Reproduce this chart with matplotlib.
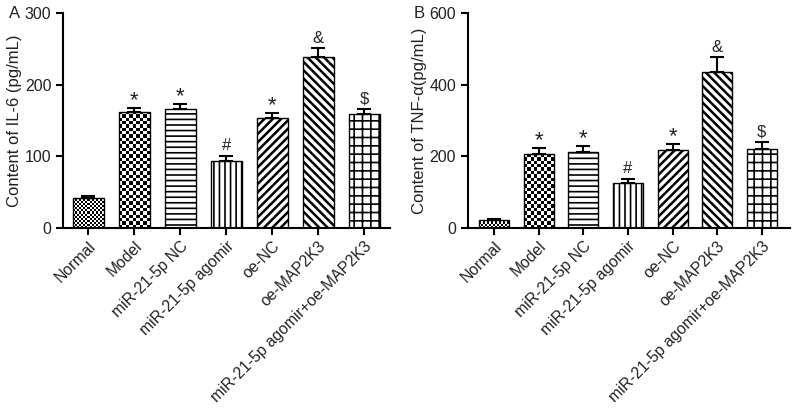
import matplotlib
matplotlib.use('Agg')
import matplotlib.pyplot as plt
import numpy as np

plt.rcParams['font.family'] = ['Liberation Sans', 'DejaVu Sans']

groups = ['Normal', 'Model', 'miR-21-5p NC', 'miR-21-5p agomir', 'oe-NC',
          'oe-MAP2K3', 'miR-21-5p agomir+oe-MAP2K3']
il6 = [42, 162, 166, 93, 154, 239, 159]
il6_err = [3, 6, 7, 8, 7, 12, 7]
tnf = [23, 206, 213, 127, 218, 436, 222]
tnf_err = [3, 17, 17, 10, 17, 41, 18]
marks = ['', '*', '*', '#', '*', '&', '$']
hatches = [None, None, '---', '|||', '////', '\\\\\\\\', '++']
hatch_lw = [1, 1, 1.2, 1.2, 1.8, 1.8, 1.2]
checker_px = {0: 2.0, 1: 3.3}  # square size in pixels for the checkered bars

fig = plt.figure(figsize=(8, 4.11), dpi=100)


def panel(rect, vals, errs, ymax, ystep, ylabel, letter, xlim):
    ax = fig.add_axes(rect)
    x = np.arange(len(vals))
    bars = ax.bar(x, vals, width=0.67, color='white', edgecolor='black',
                  linewidth=1.0, zorder=2)
    for i, b in enumerate(bars):
        if hatches[i]:
            b.set_hatch(hatches[i])
            try:
                b.set_hatch_linewidth(hatch_lw[i])
            except AttributeError:
                pass
    ax.errorbar(x, vals, yerr=[np.zeros(len(errs)), errs], fmt='none',
                ecolor='black', elinewidth=1.5, capsize=5, capthick=1.5, zorder=3)
    ax.set_xlim(*xlim)
    ax.set_ylim(0, ymax)

    # checkered fills for the first two bars
    fw, fh = fig.get_size_inches() * fig.dpi
    px_x = rect[2] * fw / (xlim[1] - xlim[0])
    px_y = rect[3] * fh / ymax
    for i, sq in checker_px.items():
        b = bars[i]
        bx, bw, bh = b.get_x(), b.get_width(), b.get_height()
        nx = max(1, int(round(bw * px_x / sq)))
        ny = max(1, int(round(bh * px_y / sq)))
        board = (np.add.outer(np.arange(ny), np.arange(nx)) % 2).astype(float)
        b.set_facecolor('none')
        im = ax.imshow(board, cmap='gray', extent=(bx, bx + bw, 0, bh),
                       aspect='auto', interpolation='nearest', zorder=1.5,
                       origin='lower', vmin=0, vmax=1)
        im.set_clip_path(b)
    ax.set_xlim(*xlim)
    ax.set_ylim(0, ymax)

    for i in range(len(vals)):
        if marks[i]:
            fs = 16 if marks[i] == '*' else 12
            off = -0.015 * ymax if marks[i] == '*' else 0.012 * ymax
            ax.text(x[i], vals[i] + errs[i] + off, marks[i], ha='center',
                    va='bottom', fontsize=fs, color='#222222')

    ax.set_yticks(np.arange(0, ymax + 1, ystep))
    ax.set_xticks(x)
    ax.set_xticklabels(groups, rotation=45, ha='right', rotation_mode='anchor',
                       fontsize=11.3, color='#222222')
    ax.tick_params(axis='y', labelsize=11.5, width=1.5, length=5,
                   labelcolor='#222222')
    ax.tick_params(axis='x', width=1.5, length=5, pad=2.5)
    for s in ['top', 'right']:
        ax.spines[s].set_visible(False)
    for s in ['left', 'bottom']:
        ax.spines[s].set_linewidth(1.5)
    ax.set_ylabel(ylabel, fontsize=12, labelpad=2, color='#222222')
    fig.text(rect[0] - 0.068, 0.985, letter, fontsize=12, va='top', ha='left',
             color='#222222')
    return ax


panel([0.079, 0.445, 0.409, 0.523], il6, il6_err, 300, 100,
      'Content of IL-6 (pg/mL)', 'A', (-0.55, 6.57))
panel([0.585, 0.445, 0.4025, 0.523], tnf, tnf_err, 600, 200,
      'Content of TNF-α(pg/mL)', 'B', (-0.58, 6.63))

fig.savefig('out.png', dpi=100)
